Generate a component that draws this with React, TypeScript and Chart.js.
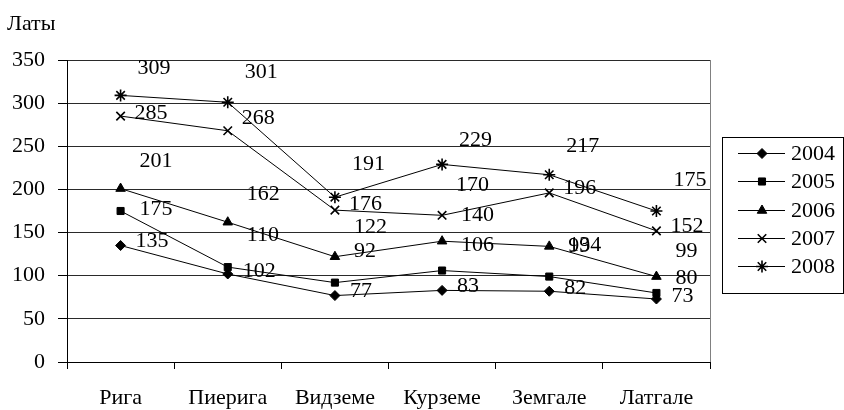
import React, { useEffect, useRef } from "react";
import { Chart, registerables } from "chart.js";
import { drawPoint } from "chart.js/helpers";

Chart.register(...registerables);

const REGIONS = ["Рига", "Пиерига", "Видземе", "Курземе", "Земгале", "Латгале"];
const YEARS = ["2004", "2005", "2006", "2007", "2008"];

const Y2004 = [135, 102, 77, 83, 82, 73];
const Y2005 = [175, 110, 92, 106, 99, 80];
const Y2006 = [201, 162, 122, 140, 134, 99];
const Y2007 = [285, 268, 176, 170, 196, 152];
const Y2008 = [309, 301, 191, 229, 217, 175];

const Y_TICKS = [0, 50, 100, 150, 200, 250, 300, 350];

const SERIES = [Y2004, Y2005, Y2006, Y2007, Y2008];
const MARKERS = ["rectRot", "rect", "triangle", "crossRot", "star"];
const MARKER_SIZE = [5, 5, 5.5, 6, 6];

// label placement (px from the point), as Excel left them
const LABEL_DX = [15, 19, 19, 14, 17];
const LABEL_DY = [
  [-4, -3, -4, -4, -3, -3],
  [-2, -32, -31, -25, -30, -15],
  [-27, -28, -30, -26, -1, -25],
  [-3, -13, -6, -30, -5, -5],
  [-27, -30, -33, -24, -29, -31],
];

const FONT = "'Liberation Serif', 'Times New Roman', serif";

const extrasPlugin = {
  id: "extras",
  afterDatasetsDraw(chart: any) {
    const ctx = chart.ctx;
    const area = chart.chartArea;
    ctx.save();

    // right border of the plot area
    ctx.strokeStyle = "#808080";
    ctx.lineWidth = 1;
    ctx.beginPath();
    ctx.moveTo(Math.round(area.right) + 0.5, area.top);
    ctx.lineTo(Math.round(area.right) + 0.5, area.bottom);
    ctx.stroke();

    // data labels
    ctx.fillStyle = "#000";
    ctx.font = `22px ${FONT}`;
    ctx.textAlign = "left";
    ctx.textBaseline = "middle";
    chart.data.datasets.forEach((ds: any, i: number) => {
      const meta = chart.getDatasetMeta(i);
      meta.data.forEach((pt: any, j: number) => {
        ctx.fillText(String(ds.data[j]), pt.x + LABEL_DX[i], pt.y + LABEL_DY[i][j]);
      });
    });

    // axis unit
    ctx.fillText("Латы", 7, 24);

    // legend
    const bx = 722, by = 137, bw = 121, bh = 156;
    ctx.strokeStyle = "#000";
    ctx.strokeRect(bx + 0.5, by + 0.5, bw, bh);
    chart.data.datasets.forEach((ds: any, i: number) => {
      const y = Math.round(153 + i * 28.3) + 0.5;
      ctx.strokeStyle = "#000";
      ctx.lineWidth = 1;
      ctx.beginPath();
      ctx.moveTo(738, y);
      ctx.lineTo(785, y);
      ctx.stroke();
      ctx.fillStyle = "#000";
      ctx.lineWidth = ds.pointBorderWidth;
      drawPoint(ctx, { pointStyle: ds.pointStyle, radius: ds.pointRadius, rotation: 0, borderWidth: ds.pointBorderWidth }, 762, y);
      ctx.fillStyle = "#000";
      ctx.fillText(ds.label, 791, y + 1);
    });
    ctx.restore();
  },
};

export default function App() {
  const canvasRef = useRef<HTMLCanvasElement | null>(null);
  const chartRef = useRef<any>(null);

  useEffect(() => {
    document.body.style.margin = "0";

    const build = () => {
      if (!canvasRef.current) return;
      if (chartRef.current) chartRef.current.destroy();

      chartRef.current = new Chart(canvasRef.current, {
        type: "line",
        data: {
          labels: REGIONS,
          datasets: SERIES.map((values, i) => ({
            label: YEARS[i],
            data: values,
            borderColor: "#000",
            borderWidth: 1,
            backgroundColor: "#000",
            pointStyle: MARKERS[i],
            pointRadius: MARKER_SIZE[i],
            pointBorderWidth: i >= 3 ? 1.6 : 1,
            pointBackgroundColor: "#000",
            pointBorderColor: "#000",
            tension: 0,
            fill: false,
          })),
        },
        options: {
          responsive: true,
          maintainAspectRatio: false,
          animation: false,
          layout: { padding: { top: 60, right: 134, left: 0, bottom: 0 } },
          plugins: {
            legend: { display: false },
            tooltip: { enabled: false },
          },
          scales: {
            x: {
              offset: true,
              afterFit: (scale: any) => {
                scale.height = 48;
              },
              border: { color: "#000", width: 1 },
              grid: {
                offset: true,
                drawOnChartArea: false,
                drawTicks: true,
                tickLength: 7,
                tickColor: "#000",
              },
              ticks: {
                color: "#000",
                font: { family: FONT, size: 22 },
                padding: 16,
                maxRotation: 0,
                autoSkip: false,
              },
            },
            y: {
              min: 0,
              max: 350,
              afterFit: (scale: any) => {
                scale.width = 67;
              },
              afterBuildTicks: (scale: any) => {
                scale.ticks = Y_TICKS.map((v) => ({ value: v }));
              },
              border: { color: "#000", width: 1 },
              grid: {
                color: "#2a2a2a",
                lineWidth: 1,
                drawTicks: true,
                tickLength: 9,
                tickColor: "#000",
              },
              ticks: {
                color: "#000",
                font: { family: FONT, size: 22 },
                padding: 13,
              },
            },
          },
        },
        plugins: [extrasPlugin],
      });
    };

    build();
    // redraw once the serif face used by the hidden span is ready
    const timer = setTimeout(build, 300);

    return () => {
      clearTimeout(timer);
      if (chartRef.current) {
        chartRef.current.destroy();
        chartRef.current = null;
      }
    };
  }, []);

  return (
    <div style={{ position: "relative", width: 844, height: 410, background: "#fff" }}>
      <span
        style={{ position: "absolute", left: 0, top: 0, opacity: 0, fontFamily: FONT, fontSize: 22, pointerEvents: "none" }}
      >
        Латы 2004
      </span>
      <canvas ref={canvasRef}></canvas>
    </div>
  );
}
